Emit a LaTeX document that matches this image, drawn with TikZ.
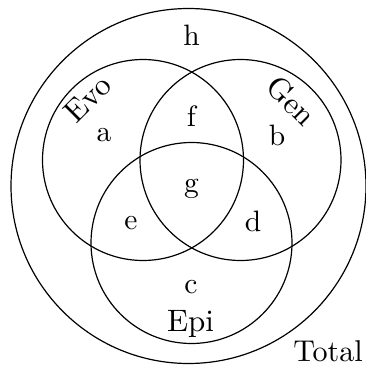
\documentclass[tikz,border=0pt]{standalone}
\begin{document}
\begin{tikzpicture}[x=1pt,y=-1pt,
  ring/.style={draw=black,line width=1.2pt},
  small/.style={font=\normalsize,scale=2.95,anchor=base,inner sep=0pt},
  big/.style={font=\normalsize,scale=3.1,inner sep=0pt}]
\useasboundingbox (0,0) rectangle (366,370);
\draw[ring] (188.5,186) circle[radius=177.5];
\draw[ring] (143,160) circle[radius=100.5];
\draw[ring] (240.5,160) circle[radius=100.5];
\draw[ring] (191.5,243) circle[radius=100.5];
\node[small] (h) at (191.5,45) {h};
\node[small] (a) at (104,141) {a};
\node[small] (f) at (191.5,126) {f};
\node[small] (b) at (277,145.5) {b};
\node[small] (g) at (191.5,192) {g};
\node[small] (e) at (131,229) {e};
\node[small] (d) at (253,231) {d};
\node[small] (c) at (191,293) {c};
\node[big,anchor=base] (epi) at (190.5,331.5) {Epi};
\node[big,anchor=base,scale=0.97] (total) at (328,361.5) {Total};
\node[big,rotate=45] (evo) at (88,99) {Evo};
\node[big,rotate=-45] (gen) at (291.5,101) {Gen};
\end{tikzpicture}
\end{document}
